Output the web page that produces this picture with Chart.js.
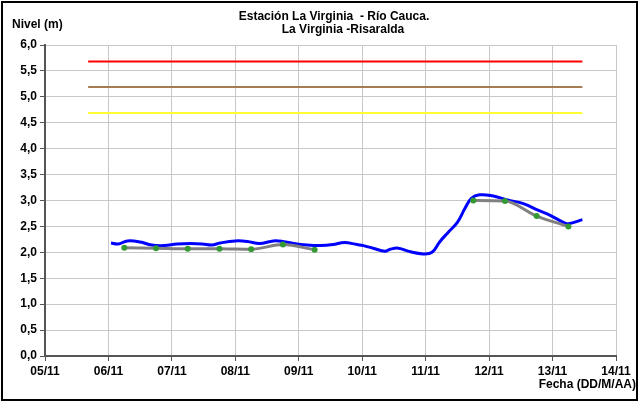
<!DOCTYPE html>
<html>
<head>
<meta charset="utf-8">
<script src="https://cdn.jsdelivr.net/npm/chart.js@4.4.0/dist/chart.umd.min.js"></script>
<style>
  html, body { margin: 0; padding: 0; background: #fff; }
  #wrap { width: 640px; height: 403px; position: relative; }
</style>
</head>
<body>
<div id="wrap"><canvas id="nivelChart" width="640" height="403"></canvas></div>
<script>
// eje X en dias desde 05/11
const dayLabels = ["05/11","06/11","07/11","08/11","09/11","10/11","11/11","12/11","13/11","14/11"];

// nivel registrado (azul)
const blueDays   = [1.04,1.15,1.30,1.50,1.68,1.88,2.08,2.30,2.48,2.63,2.76,3.00,3.19,3.38,3.60,3.75,3.92,4.13,4.34,4.54,4.72,4.92,5.02,5.17,5.36,5.44,5.57,5.76,5.96,6.10,6.22,6.35,6.50,6.62,6.72,6.85,7.05,7.29,7.54,7.76,7.97,8.17,8.25,8.47];
const blueLevels = [2.18,2.16,2.22,2.20,2.14,2.13,2.16,2.17,2.16,2.14,2.18,2.22,2.21,2.17,2.22,2.21,2.17,2.14,2.13,2.15,2.19,2.15,2.13,2.08,2.02,2.06,2.08,2.01,1.97,2.00,2.20,2.38,2.58,2.85,3.04,3.11,3.09,3.01,2.94,2.82,2.71,2.58,2.55,2.63];

// lecturas de mira (verde) - null corta la linea
const greenDays   = [1.25,1.75,2.25,2.75,3.25,3.75,4.25,5.50,6.75,7.25,7.75,8.25];
const greenLevels = [2.09,2.08,2.07,2.07,2.06,2.15,2.05,null,3.00,2.99,2.70,2.50];

// umbrales de alerta
const alertStart  = 0.68;
const alertEnd    = 8.47;
const redLevel    = 5.68;
const brownLevel  = 5.19;
const yellowLevel = 4.69;

const toXY = (xs, ys) => xs.map((x, i) => ({ x: x, y: ys[i] }));
const hLine = (v, color) => ({
  data: [{ x: alertStart, y: v }, { x: alertEnd, y: v }],
  borderColor: color, borderWidth: 2, pointRadius: 0, tension: 0
});

const fmt = v => v.toFixed(1).replace(".", ",");
const FONT = "bold 12px 'Liberation Sans', Arial, sans-serif";
const tickFont = { family: "'Liberation Sans', Arial", size: 12, weight: "bold" };

const textPlugin = {
  id: "texts",
  afterDraw(chart) {
    const c = chart.ctx;
    c.save();
    c.fillStyle = "#000";
    c.font = FONT;
    c.textBaseline = "middle";
    c.textAlign = "center";
    c.fillText("Estación La Virginia  - Río Cauca.", 334, 17);
    c.fillText("La Virginia -Risaralda", 343, 30);
    c.textAlign = "left";
    c.fillText("Nivel (m)", 12, 25);
    c.textAlign = "right";
    c.fillText("Fecha (DD/M/AA)", 636, 385);
    c.strokeStyle = "#000";
    c.lineWidth = 2;
    c.strokeRect(2, 2, 635, 398);
    c.restore();
  }
};

new Chart(document.getElementById("nivelChart"), {
  type: "line",
  data: {
    datasets: [
      { data: toXY(greenDays, greenLevels), borderColor: "#808080", borderWidth: 3, cubicInterpolationMode: "monotone",
        pointRadius: 3, pointBorderWidth: 0, pointBackgroundColor: "#339933", spanGaps: false },
      { data: toXY(blueDays, blueLevels), borderColor: "#0000ff", borderWidth: 3, pointRadius: 0, tension: 0.4 },
      hLine(redLevel, "#ff0000"),
      hLine(brownLevel, "#a67c52"),
      hLine(yellowLevel, "#ffff33")
    ]
  },
  options: {
    responsive: false,
    animation: false,
    layout: { padding: { top: 45, right: 24, left: 0, bottom: 0 } },
    plugins: { legend: { display: false }, tooltip: { enabled: false } },
    scales: {
      x: {
        type: "linear", min: 0, max: 9,
        afterFit: s => { s.height = 47; },
        afterBuildTicks: s => { s.ticks = dayLabels.map((_, i) => ({ value: i })); },
        ticks: { callback: v => dayLabels[v], color: "#000", font: tickFont, maxRotation: 0, padding: 3 },
        grid: { color: "#c8c8c8", lineWidth: 1, tickLength: 5, tickColor: "#555" },
        border: { color: "#555", width: 2 }
      },
      y: {
        min: 0, max: 6,
        afterFit: s => { s.width = 45; },
        ticks: { stepSize: 0.5, callback: v => fmt(v), color: "#000", font: tickFont, padding: 3 },
        grid: { color: "#c8c8c8", lineWidth: 1, tickLength: 5, tickColor: "#555" },
        border: { color: "#555", width: 2 }
      }
    }
  },
  plugins: [textPlugin]
});
</script>
</body>
</html>
